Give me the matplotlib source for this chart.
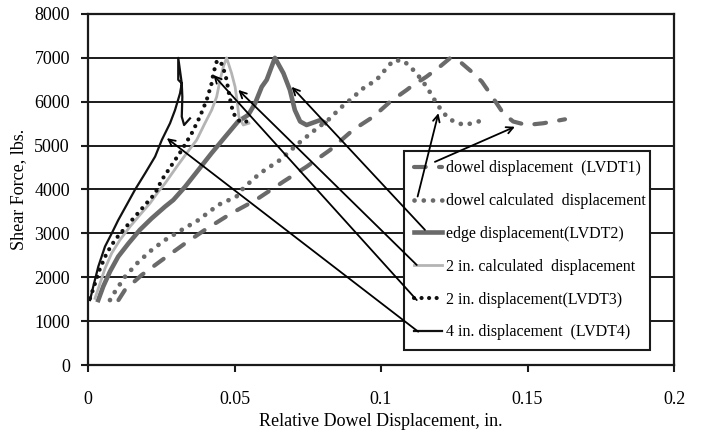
import matplotlib
matplotlib.use("Agg")
import matplotlib.pyplot as plt

plt.rcParams['font.family'] = ['Liberation Serif', 'DejaVu Serif']

# dowel displacement (LVDT1)
lvdt1_x = [0.0104, 0.0126, 0.0183, 0.0252, 0.0331, 0.0399, 0.049, 0.057, 0.0667, 0.0746,
           0.0826, 0.0905, 0.0974, 0.1031, 0.1088, 0.1121, 0.1139, 0.1155, 0.1201, 0.1235,
           0.127, 0.131, 0.1344, 0.1372, 0.1395, 0.1417, 0.1451, 0.1497, 0.1554, 0.1628]
lvdt1_y = [1480, 1710, 2050, 2390, 2770, 3080, 3460, 3750, 4180, 4520,
           4900, 5360, 5660, 6000, 6270, 6440, 6500, 6570, 6800, 6990,
           6910, 6680, 6460, 6190, 5960, 5740, 5550, 5470, 5510, 5600]

# dowel calculated displacement
dcalc_x = [0.0075, 0.0092, 0.0126, 0.0172, 0.0217, 0.0263, 0.032, 0.0376, 0.0445, 0.0507,
           0.053, 0.0587, 0.0655, 0.0718, 0.0775, 0.0826, 0.086, 0.0894, 0.094, 0.0985,
           0.1008, 0.1042, 0.1076, 0.1099, 0.1121, 0.1156, 0.1173, 0.119, 0.1207, 0.123,
           0.1258, 0.1287, 0.1315, 0.1344]
dcalc_y = [1480, 1670, 2010, 2350, 2620, 2850, 3080, 3300, 3650, 3840,
           4030, 4370, 4670, 5050, 5360, 5620, 5850, 6040, 6310, 6500,
           6680, 6940, 6940, 6800, 6650, 6340, 6150, 5960, 5800, 5620,
           5520, 5470, 5520, 5570]

# edge displacement (LVDT2)
lvdt2_x = [0.0035, 0.0052, 0.0075, 0.0103, 0.0138, 0.0177, 0.0217, 0.0263, 0.0291, 0.0331,
           0.0376, 0.0422, 0.0468, 0.0512, 0.0547, 0.057, 0.0593, 0.061, 0.0638, 0.0667,
           0.0689, 0.0706, 0.0724, 0.0746, 0.0792, 0.0809]
lvdt2_y = [1480, 1790, 2130, 2470, 2770, 3080, 3340, 3610, 3760, 4060,
           4440, 4830, 5200, 5550, 5700, 5960, 6340, 6500, 7000, 6650,
           6270, 5810, 5550, 5470, 5580, 5520]

# 2 in. calculated displacement
calc2_x = [0.0024, 0.0041, 0.0058, 0.0081, 0.0109, 0.0143, 0.0177, 0.0212, 0.024, 0.0263,
           0.0303, 0.0337, 0.0371, 0.0399, 0.0422, 0.0439, 0.0451, 0.0462, 0.0473, 0.049,
           0.0502, 0.051, 0.0515, 0.053, 0.0549]
calc2_y = [1520, 1860, 2200, 2550, 2850, 3150, 3420, 3690, 3950, 4140,
           4520, 4830, 5130, 5510, 5810, 6110, 6500, 6800, 7000, 6650,
           6340, 5960, 5660, 5470, 5510]

# 2 in. displacement (LVDT3)
lvdt3_x = [0.0007, 0.0024, 0.0041, 0.0064, 0.0092, 0.0126, 0.016, 0.0195, 0.0229, 0.0252,
           0.0286, 0.032, 0.0354, 0.0382, 0.0405, 0.0422, 0.0428, 0.0439, 0.0451, 0.0462,
           0.0473, 0.0481, 0.049, 0.0502, 0.0519, 0.0542]
lvdt3_y = [1520, 1860, 2200, 2550, 2850, 3120, 3380, 3650, 3910, 4220,
           4560, 4900, 5280, 5660, 6040, 6420, 6650, 6910, 6940, 6760,
           6500, 6190, 5890, 5660, 5550, 5550]

# 4 in. displacement (LVDT4)
lvdt4_x = [0.0007, 0.0018, 0.0035, 0.0058, 0.0081, 0.0103, 0.0132, 0.016, 0.0195, 0.0229,
           0.0252, 0.028, 0.0297, 0.0314, 0.032, 0.0308, 0.0308, 0.032, 0.0322, 0.032,
           0.0328, 0.0348]
lvdt4_y = [1480, 1790, 2240, 2700, 3000, 3300, 3650, 3990, 4370, 4750,
           5130, 5510, 5810, 6190, 6420, 6500, 7000, 6420, 6110, 5660,
           5470, 5620]

# arrow tips on the curves and tails at the legend keys
arrow_tips = [(0.1457, 5430), (0.1196, 5740), (0.0695, 6340),
              (0.0513, 6270), (0.0428, 6610), (0.0269, 5170)]
arrow_tails = [(0.1184, 4630), (0.1125, 3840), (0.1150, 3080),
               (0.1122, 2280), (0.1122, 1480), (0.1127, 760)]

labels = ['dowel displacement  (LVDT1)', 'dowel calculated  displacement',
          'edge displacement(LVDT2)', '2 in. calculated  displacement',
          '2 in. displacement(LVDT3)', '4 in. displacement  (LVDT4)']

fig = plt.figure(figsize=(7.02, 4.33), dpi=100)
ax = fig.add_axes([88 / 702, 68 / 433, 586 / 702, 351 / 433])

gray = '#6a6a6a'
ax.plot(lvdt1_x, lvdt1_y, color=gray, lw=3.0, ls=(0, (2.8, 3.2)),
        dash_capstyle='round', label=labels[0])
ax.plot(dcalc_x, dcalc_y, color=gray, lw=3.4, ls=(0, (0.01, 1.95)),
        dash_capstyle='round', label=labels[1])
ax.plot(lvdt2_x, lvdt2_y, color=gray, lw=3.3, solid_joinstyle='round', label=labels[2])
ax.plot(calc2_x, calc2_y, color='#b4b4b4', lw=2.0, label=labels[3])
ax.plot(lvdt3_x, lvdt3_y, color='#111111', lw=3.0, ls=(0, (0.01, 1.8)),
        dash_capstyle='round', label=labels[4])
ax.plot(lvdt4_x, lvdt4_y, color='#111111', lw=1.6, label=labels[5])

ax.set_xlim(0, 0.2)
ax.set_ylim(0, 8000)
ax.set_xticks([0, 0.05, 0.1, 0.15, 0.2])
ax.set_xticklabels(['0', '0.05', '0.1', '0.15', '0.2'])
ax.set_yticks(range(0, 8001, 1000))
ax.yaxis.grid(True, color='#1a1a1a', lw=1.4)
ax.set_axisbelow(True)
for s in ax.spines.values():
    s.set_linewidth(1.6)
    s.set_color('#1a1a1a')
ax.tick_params(labelsize=13, length=5, width=1.5, color='#1a1a1a', pad=8)
ax.tick_params(axis='x', pad=14)

ax.set_xlabel('Relative Dowel Displacement, in.', fontsize=13, labelpad=3)
ax.set_ylabel('Shear Force, lbs.', fontsize=13, labelpad=5)

leg = ax.legend(loc='lower left', bbox_to_anchor=(0.54, 0.043, 0.419, 0.57),
                mode='expand', borderaxespad=0, fontsize=11.5, handlelength=1.75,
                handletextpad=0.25, labelspacing=1.05, fancybox=False, framealpha=1,
                edgecolor='#1a1a1a', borderpad=0.6)
leg.get_frame().set_linewidth(1.5)
leg.set_zorder(5)

for tip, tail in zip(arrow_tips, arrow_tails):
    ax.annotate('', xy=tip, xytext=tail, zorder=6,
                arrowprops=dict(arrowstyle='->', color='black', lw=1.3,
                                shrinkA=0, shrinkB=0, mutation_scale=12))

fig.savefig('out.png', dpi=100)
